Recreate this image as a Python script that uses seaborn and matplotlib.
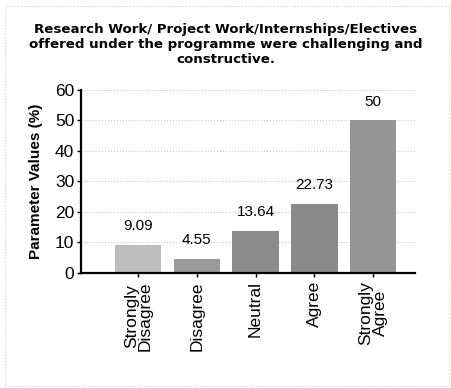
"""Bar chart: feedback on research work / project work / internships / electives."""

import pandas as pd
import seaborn as sns
from matplotlib import pyplot as plt
from matplotlib.patches import Rectangle

plt.switch_backend("Agg")

CATEGORIES = ["Strongly\nDisagree", "Disagree", "Neutral", "Agree", "Strongly\nAgree"]
VALUES = [9.09, 4.55, 13.64, 22.73, 50]
VALUE_LABELS = ["9.09", "4.55", "13.64", "22.73", "50"]
BAR_COLORS = ["#bdbdbd", "#9a9a9a", "#8c8c8c", "#8a8a8a", "#959595"]

TITLE = ("Research Work/ Project Work/Internships/Electives\n"
         "offered under the programme were challenging and\n"
         "constructive.")


def main() -> None:
    sns.set_style("white")
    plt.rcParams["font.family"] = ["Liberation Sans", "DejaVu Sans"]

    df = pd.DataFrame({"category": CATEGORIES, "value": VALUES})

    fig = plt.figure(figsize=(4.51, 3.88), dpi=100)
    ax = fig.add_axes([0.18, 0.297, 0.741, 0.471])

    sns.barplot(data=df, x="category", y="value", hue="category",
                palette=BAR_COLORS, legend=False, width=0.79, ax=ax,
                edgecolor="none", zorder=2)

    for i, (v, lab) in enumerate(zip(VALUES, VALUE_LABELS)):
        ax.annotate(lab, (i, v), xytext=(0, 13.5), textcoords="offset points",
                    ha="center", va="center", fontsize=11, color="black")

    ax.set_ylim(0, 60)
    ax.set_yticks(range(0, 61, 10))
    ax.set_xlim(-0.97, 4.72)
    ax.yaxis.grid(True, color="#c8c8c8", linestyle=":", linewidth=0.8, zorder=0)
    ax.set_axisbelow(True)

    for side in ["top", "right"]:
        ax.spines[side].set_visible(False)
    for side in ["left", "bottom"]:
        ax.spines[side].set_linewidth(1.6)
        ax.spines[side].set_color("black")

    ax.tick_params(axis="y", labelsize=12.5, length=3, left=True, width=1,
                   pad=2, colors="black")
    ax.tick_params(axis="x", labelsize=12.5, length=3, bottom=True, width=1,
                   rotation=90, pad=3, colors="black")
    for lab in ax.get_xticklabels():
        lab.set_linespacing(0.9)

    ax.set_xlabel("")
    ax.set_ylabel("Parameter Values (%)", fontsize=11, fontweight="bold",
                  color="black")
    ax.yaxis.set_label_coords(-0.115, 0.5)

    fig.text(0.5, 0.83, TITLE, ha="center", va="bottom", fontsize=9.6,
             fontweight="bold", linespacing=1.2, color="black",
             family="DejaVu Sans")

    fig.patches.append(Rectangle((0.01, 0.005), 0.985, 0.98,
                                 transform=fig.transFigure, fill=False,
                                 edgecolor="#d0d0d0", linestyle=":",
                                 linewidth=0.8))

    fig.savefig("out.png", dpi=100)
    plt.close(fig)


if __name__ == "__main__":
    main()
